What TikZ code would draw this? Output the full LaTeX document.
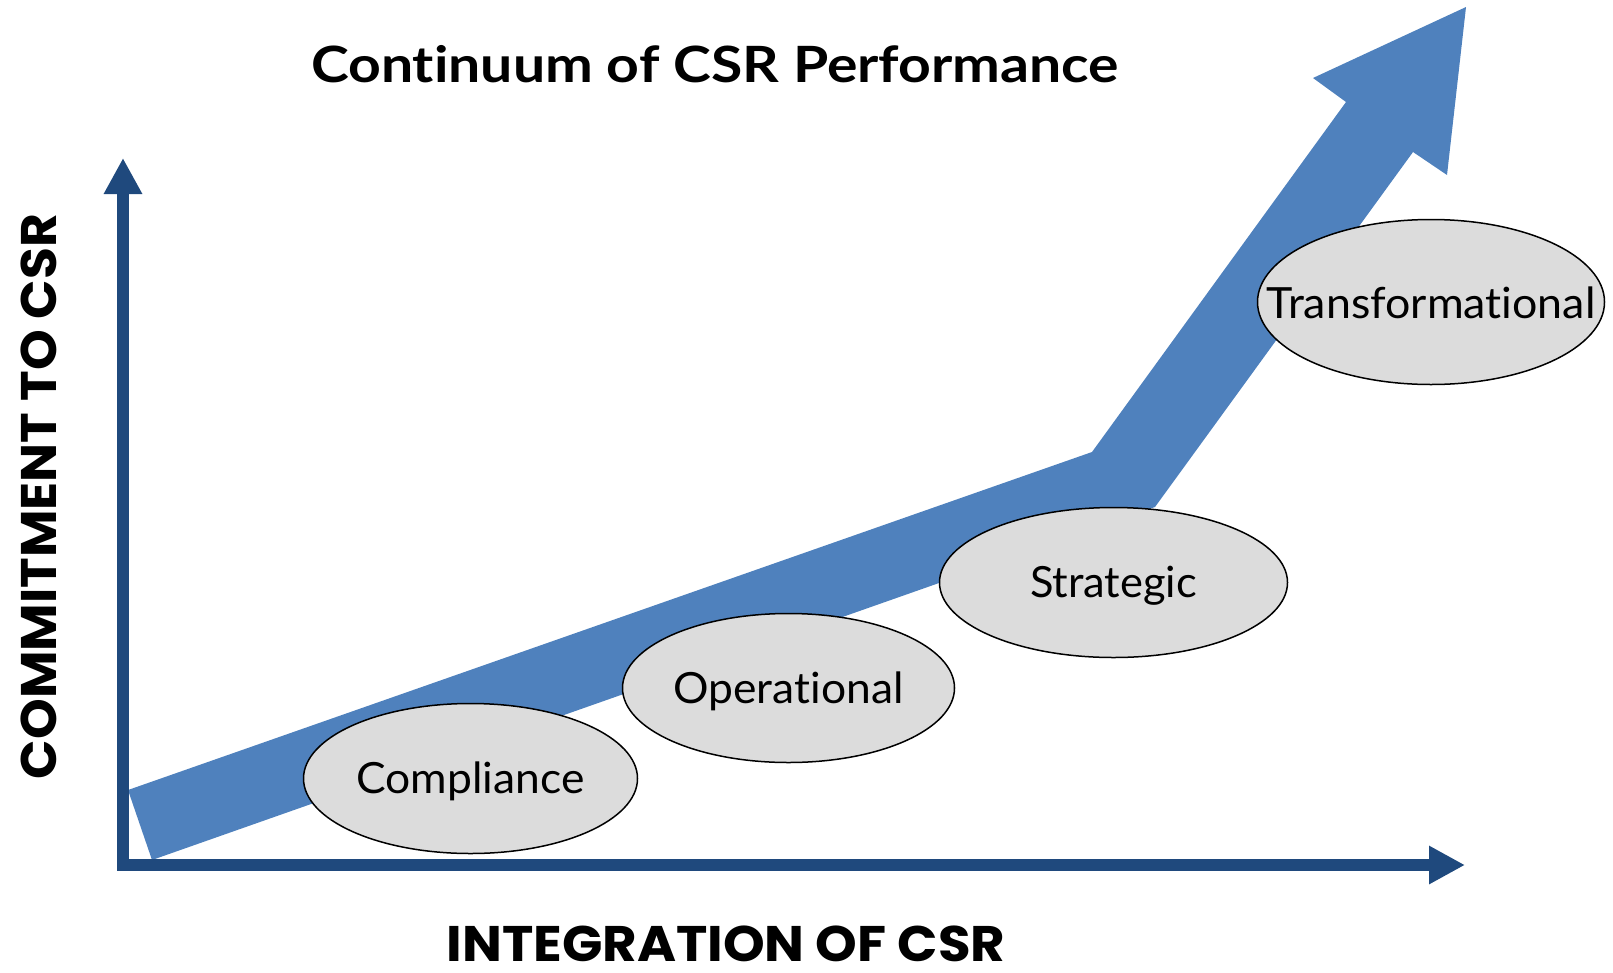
\documentclass[tikz,border=0pt]{standalone}
\usepackage{fontspec}
\usepackage{graphicx}
\setmainfont{Lato}[Ligatures={NoCommon}]
\newfontfamily\axisfont{Poppins}
\usetikzlibrary{arrows.meta,shapes.geometric}

\definecolor{flowblue}{HTML}{4F81BD}
\definecolor{axisblue}{HTML}{1F497D}
\definecolor{stagegrey}{HTML}{DCDCDC}

% squeeze or stretch a text horizontally to a given width, keeping its height
\newcommand{\fitto}[2]{\resizebox{#1}{\height}{#2}}

\begin{document}
\begin{tikzpicture}[x=1pt,y=-1pt,
  stage/.style={ellipse, draw=black, line width=1.5pt, fill=stagegrey, inner sep=0pt},
  stagetext/.style={anchor=base, yshift=-15pt, inner sep=0pt,
    font=\fontsize{43}{50}\selectfont},
  axisline/.style={draw=axisblue, line width=11.5pt, line join=miter,
    {Triangle[length=36pt,width=36pt]}-{Triangle[length=36pt,width=36pt]}},
  axislabel/.style={anchor=base, inner sep=0pt,
    font=\axisfont\bfseries\fontsize{50}{60}\selectfont}
]
\useasboundingbox (0,0) rectangle (1613,972);

% rising band with a bend and a broad head
\fill[flowblue] (128,790) -- (1092,452) -- (1346,102) -- (1313,78) -- (1466,7)
  -- (1447,175) -- (1413,152) -- (1155,507) -- (152,860) -- cycle;

% axes
\coordinate (o) at (123,865);
\coordinate (ytop) at (123,158);
\coordinate (xend) at (1465,865);
\draw[axisline] (ytop) -- (o) -- (xend);

% stages
\node[stage, minimum width=334pt, minimum height=150pt] (comp)  at (470.5,778.5) {};
\node[stage, minimum width=332pt, minimum height=149pt] (oper)  at (788.5,688) {};
\node[stage, minimum width=348pt, minimum height=150pt] (strat) at (1113.5,582.5) {};
\node[stage, minimum width=347pt, minimum height=165pt] (trans) at (1431,302) {};

\node[stagetext] (compT)  at (comp.center)  {\fitto{228pt}{Compliance}};
\node[stagetext] (operT)  at (oper.center)  {\fitto{230pt}{Operational}};
\node[stagetext] (stratT) at (strat.center) {\fitto{167pt}{Strategic}};
\node[stagetext, yshift=-1pt] (transT) at (trans.center) {\fitto{329pt}{Transformational}};

% titles
\node[anchor=base, inner sep=0pt, font=\bfseries\fontsize{50}{60}\selectfont]
  (title) at (715,82) {\fitto{808pt}{Continuum of CSR Performance}};
\node[axislabel] (xlabel) at (726,961) {\fitto{559pt}{INTEGRATION OF CSR}};
\node[axislabel, rotate=90] (ylabel) at (56.6,496.5) {\fitto{565pt}{COMMITMENT TO CSR}};
\end{tikzpicture}
\end{document}
